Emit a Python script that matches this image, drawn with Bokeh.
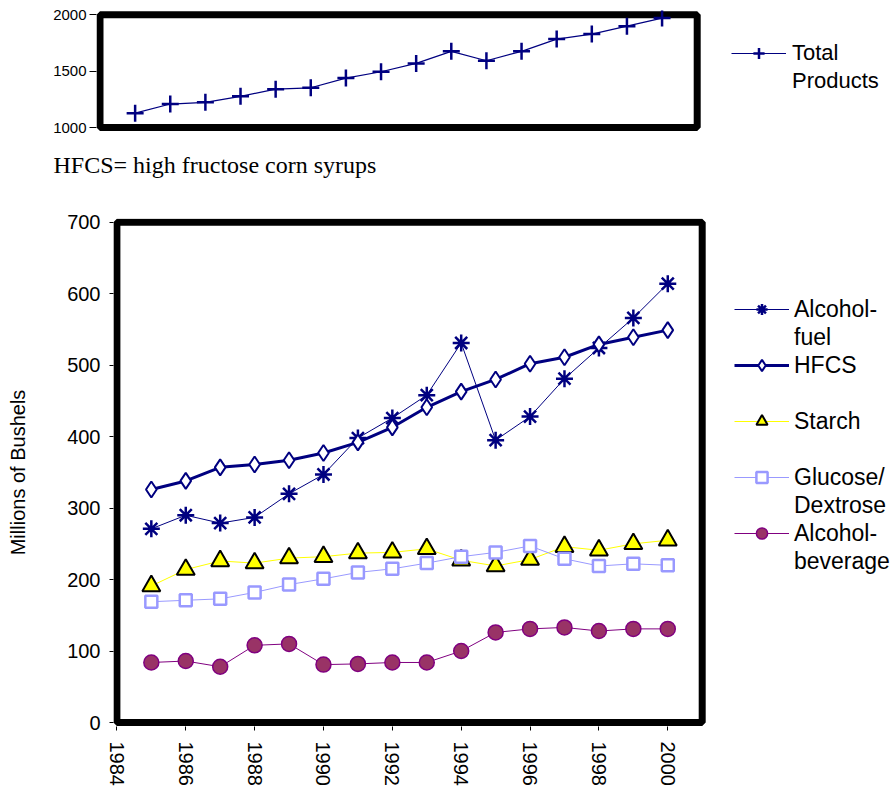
from bokeh.plotting import figure
from bokeh.models import (Legend, LegendItem, FixedTicker, Range1d, ColumnDataSource, Title,
                          BoxAnnotation)
from bokeh.core.properties import value
from bokeh.embed import file_html
from bokeh.resources import INLINE

years = [1985, 1986, 1987, 1988, 1989, 1990, 1991, 1992, 1993, 1994, 1995, 1996, 1997, 1998, 1999, 2000]
total_products = [1127, 1208, 1223, 1276, 1340, 1352, 1438, 1494, 1568, 1675, 1592, 1675, 1784, 1828, 1898, 1970]
alcohol_fuel = [271, 290, 279, 287, 320, 347, 398, 426, 458, 531, 395, 428, 481, 524, 566, 614]
hfcs = [326, 338, 357, 361, 367, 377, 392, 413, 441, 463, 480, 502, 511, 529, 539, 549]
starch = [191, 214, 226, 223, 230, 232, 237, 238, 243, 227, 219, 228, 246, 241, 250, 255]
glucose = [169, 171, 173, 182, 193, 201, 210, 215, 223, 232, 238, 247, 229, 219, 222, 220]
alcohol_bev = [84, 86, 78, 108, 110, 81, 82, 84, 84, 100, 126, 131, 133, 128, 131, 131]

top_yticks = [1000, 1500, 2000]
main_yticks = [0, 100, 200, 300, 400, 500, 600, 700]
main_xticks = [1984, 1986, 1988, 1990, 1992, 1994, 1996, 1998, 2000]

FONT = "Liberation Sans"
NAVY = "#000080"
W = 893


def fit_range(lo, hi, px_lo, px_hi, frame_lo, frame_hi):
    """Range whose values lo/hi land at pixel px_lo/px_hi of a frame spanning frame_lo..frame_hi."""
    k = (hi - lo) / (px_hi - px_lo)
    return Range1d(lo - (px_lo - frame_lo) * k, hi + (frame_hi - px_hi) * k)


src = ColumnDataSource(dict(year=years, total=total_products, fuel=alcohol_fuel, hfcs=hfcs,
                            starch=starch, glucose=glucose, bev=alcohol_bev))

# ---------------- top chart ----------------
P1_LEFT, P1_TOP, P1_BOTTOM = 96, 10, 131
p1 = figure(width=W, height=203, output_backend="svg", toolbar_location=None,
            x_range=fit_range(1984, 2001, 99.5, 696.7, P1_LEFT, W),
            y_range=fit_range(1000, 2000, 127.0, 14.2, P1_BOTTOM, P1_TOP),
            min_border_left=P1_LEFT, min_border_right=0, min_border_top=P1_TOP,
            min_border_bottom=203 - P1_BOTTOM)
p1.outline_line_color = None
p1.xgrid.visible = False
p1.ygrid.visible = False
p1.xaxis.visible = False
p1.yaxis.ticker = FixedTicker(ticks=top_yticks)
p1.yaxis.minor_tick_line_color = None
p1.yaxis.axis_line_color = None
p1.yaxis.major_tick_out = 7
p1.yaxis.major_tick_in = 0
p1.yaxis.major_tick_line_color = "black"
p1.yaxis.major_label_standoff = 3
p1.yaxis.major_label_text_font = FONT
p1.yaxis.major_label_text_font_size = "15px"
p1.yaxis.major_label_text_color = "black"

p1.add_layout(BoxAnnotation(left=1984, right=2001, bottom=1000, top=2000, fill_alpha=0,
                            line_color="black", line_alpha=1, line_width=7, level="underlay"))

note = Title(text="HFCS= high fructose corn syrups", align="left", offset=-43,
             vertical_align="top", standoff=41,
             text_font="Liberation Serif", text_font_size="24px",
             text_font_style="normal", text_color="black")
p1.add_layout(note, "below")

t_line = p1.line("year", "total", source=src, line_color=NAVY, line_width=1.2)
t_mark = p1.scatter("year", "total", source=src, marker="cross", size=17, line_color=NAVY, line_width=2.5)
t_blank = p1.line(x=[], y=[], line_alpha=0)

leg1 = Legend(items=[LegendItem(label=value("Total"), renderers=[t_line, t_mark]),
                     LegendItem(label=value("Products"), renderers=[t_blank])],
              location=(635, 36), padding=0, margin=0, spacing=0,
              glyph_width=55, glyph_height=28, label_standoff=6, label_height=28,
              background_fill_alpha=0, border_line_alpha=0,
              label_text_font=FONT, label_text_font_size="22px", label_text_color="black")
p1.add_layout(leg1, "center")

# ---------------- main chart ----------------
P2_LEFT, P2_TOP, P2_BOTTOM, P2_H = 113, 15, 524, 585
p2 = figure(width=W, height=P2_H, output_backend="svg", toolbar_location=None,
            x_range=fit_range(1984, 2001, 116.4, 701.7, P2_LEFT, W),
            y_range=fit_range(0, 700, 723 - 203, 221.7 - 203, P2_BOTTOM, P2_TOP),
            min_border_left=P2_LEFT, min_border_right=0, min_border_top=P2_TOP,
            min_border_bottom=P2_H - P2_BOTTOM)
p2.outline_line_color = None
p2.xgrid.visible = False
p2.ygrid.visible = False

p2.add_layout(BoxAnnotation(left=1984, right=2001, bottom=0, top=700, fill_alpha=0,
                            line_color="black", line_alpha=1, line_width=7, level="underlay"))

p2.yaxis.ticker = FixedTicker(ticks=main_yticks)
p2.xaxis.ticker = FixedTicker(ticks=main_xticks)
for ax in (p2.xaxis[0], p2.yaxis[0]):
    ax.minor_tick_line_color = None
    ax.axis_line_color = None
    ax.major_tick_in = 0
    ax.major_tick_out = 4
    ax.major_tick_line_color = "black"
    ax.major_label_text_font = FONT
    ax.major_label_text_font_size = "20px"
    ax.major_label_text_color = "black"
p2.yaxis.major_label_standoff = 9
p2.xaxis.major_label_standoff = 11
p2.xaxis.major_label_orientation = "vertical"
p2.yaxis.axis_label = "Millions of Bushels"
p2.yaxis.axis_label_text_font = FONT
p2.yaxis.axis_label_text_font_size = "20px"
p2.yaxis.axis_label_text_font_style = "normal"
p2.yaxis.axis_label_text_color = "black"
p2.yaxis.axis_label_standoff = 35

f_line = p2.line("year", "fuel", source=src, line_color=NAVY, line_width=1)
f_mark = p2.scatter("year", "fuel", source=src, marker="asterisk", size=17, line_color=NAVY, line_width=2.5)

h_line = p2.line("year", "hfcs", source=src, line_color=NAVY, line_width=3)
h_mark = p2.scatter("year", "hfcs", source=src, marker="diamond", size=16, line_color=NAVY,
                    fill_color="white", line_width=2)

s_line = p2.line("year", "starch", source=src, line_color="#FFFF00", line_width=1)
s_mark = p2.scatter("year", "starch", source=src, marker="triangle", size=18, line_color="black",
                    fill_color="#FFFF00", line_width=2)

g_line = p2.line("year", "glucose", source=src, line_color="#9999FF", line_width=1)
g_mark = p2.scatter("year", "glucose", source=src, marker="square", size=12, line_color="#9999FF",
                    fill_color="white", line_width=2.5)

b_line = p2.line("year", "bev", source=src, line_color="#800080", line_width=1)
b_mark = p2.scatter("year", "bev", source=src, marker="circle", size=15, line_color="#800080",
                    fill_color="#993366", line_width=1.5)

blank = p2.line(x=[], y=[], line_alpha=0)

leg2 = Legend(items=[
    LegendItem(label=value("Alcohol-"), renderers=[f_line, f_mark]),
    LegendItem(label=value("fuel"), renderers=[blank]),
    LegendItem(label=value("HFCS"), renderers=[h_line, h_mark]),
    LegendItem(label=value(" "), renderers=[blank]),
    LegendItem(label=value("Starch"), renderers=[s_line, s_mark]),
    LegendItem(label=value(" "), renderers=[blank]),
    LegendItem(label=value("Glucose/"), renderers=[g_line, g_mark]),
    LegendItem(label=value("Dextrose"), renderers=[blank]),
    LegendItem(label=value("Alcohol-"), renderers=[b_line, b_mark]),
    LegendItem(label=value("beverage"), renderers=[blank]),
], location=(621, 151), padding=0, margin=0, spacing=0,
    glyph_width=55, glyph_height=28, label_standoff=5, label_height=28,
    background_fill_alpha=0, border_line_alpha=0,
    label_text_font=FONT, label_text_font_size="23px", label_text_color="black")
p2.add_layout(leg2, "center")

open("out.html", "w").write(file_html([p1, p2], INLINE))
